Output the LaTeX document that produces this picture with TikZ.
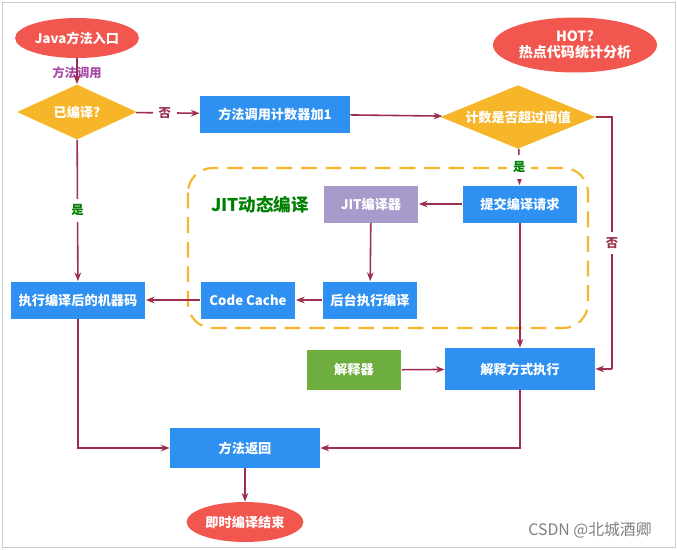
\documentclass[tikz,border=0pt]{standalone}
\usepackage{fontspec}
\setmainfont{Noto Sans CJK SC}
\usetikzlibrary{shapes.geometric,arrows.meta}
\definecolor{bl}{HTML}{2E90F0}
\definecolor{og}{HTML}{F7B52A}
\definecolor{rd}{HTML}{F1574F}
\definecolor{gn}{HTML}{6DAE3F}
\definecolor{pu}{HTML}{A89BCB}
\definecolor{ar}{HTML}{9E2F4C}
\begin{document}
\begin{tikzpicture}[x=0.02cm,y=-0.02cm,font=\bfseries\fontsize{7.5}{9}\selectfont,
 box/.style={draw=none,fill=bl,text=white,minimum height=0.74cm,inner sep=1pt},
 el/.style={ellipse,fill=rd,text=white,inner sep=1pt},
 dia/.style={diamond,aspect=2.3,fill=og,text=white,inner sep=1pt},
 ln/.style={draw=ar,line width=0.9pt,-{Stealth[length=5pt]}},
 lab/.style={font=\bfseries\fontsize{7}{8}\selectfont}]
\useasboundingbox (0,0) rectangle (677,549);
\draw[draw=gray!40,fill=white] (2,2) rectangle (675,547);
\node[el,minimum width=1.9cm,minimum height=0.8cm] (start) at (77,38) {Java方法入口};
\node[lab,text=violet!70] (call) at (77,73) {方法调用};
\node[dia,minimum width=2.4cm,minimum height=1.1cm] (d1) at (77,112) {已编译?};
\node[box,minimum width=3cm] (cnt) at (275,114) {方法调用计数器加1};
\node[dia,minimum width=3.1cm,minimum height=1.1cm] (d2) at (518,117) {计数是否超过阈值};
\node[el,minimum width=2.4cm,minimum height=1.1cm,align=center,font=\bfseries\fontsize{8}{9}\selectfont] (hot) at (575,45) {HOT?\\热点代码统计分析};
\draw[draw=og,line width=1.2pt,dash pattern=on 9pt off 5pt,rounded corners=14pt] (188,168) rectangle (588,328);
\node[text=green!50!black,font=\bfseries\fontsize{10}{12}\selectfont] (jitl) at (260,205) {JIT动态编译};
\node[box,fill=pu,minimum width=1.9cm] (jit) at (371,204) {JIT编译器};
\node[box,minimum width=2.3cm] (sub) at (520,204) {提交编译请求};
\node[box,minimum width=1.9cm] (bg) at (370,300) {后台执行编译};
\node[box,minimum width=1.9cm] (cc) at (248,300) {Code Cache};
\node[box,minimum width=2.7cm] (mc) at (78,300) {执行编译后的机器码};
\node[box,fill=gn,minimum width=1.9cm,minimum height=0.8cm] (interp) at (354,370) {解释器};
\node[box,minimum width=3cm,minimum height=0.84cm] (iexe) at (520,369) {解释方式执行};
\node[box,minimum width=3cm,minimum height=0.8cm] (ret) at (245,448) {方法返回};
\node[el,minimum width=2cm,minimum height=0.8cm] (end) at (245,522) {即时编译结束};
\node[text=gray,font=\fontsize{9}{10}\selectfont] (wm) at (590,530) {CSDN @北城酒卿};
\coordinate (r1) at (612,117);
\coordinate (r2) at (612,369);
\coordinate (b1) at (78,448);
\coordinate (b2) at (520,448);
\draw[ln] (start) -- (d1);
\draw[ln] (d1) -- node[lab,fill=white,text=ar,pos=0.45]{否} (cnt);
\draw[ln] (cnt) -- (d2);
\draw[ln] (d2) -- node[lab,fill=white,text=green!50!black]{是} (sub);
\draw[draw=ar,line width=0.9pt] (d2) -- (r1) -- node[lab,fill=white,text=ar]{否} (r2);
\draw[ln] (r2) -- (iexe);
\draw[ln] (sub) -- (jit);
\draw[ln] (jit) -- (bg);
\draw[ln] (bg) -- (cc);
\draw[ln] (cc) -- (mc);
\draw[ln] (d1) -- node[lab,fill=white,text=green!50!black]{是} (mc);
\draw[ln] (sub) -- (iexe);
\draw[ln] (interp) -- (iexe);
\draw[ln] (mc) -- (b1) -- (ret);
\draw[ln] (iexe) -- (b2) -- (ret);
\draw[ln] (ret) -- (end);
\end{tikzpicture}
\end{document}
